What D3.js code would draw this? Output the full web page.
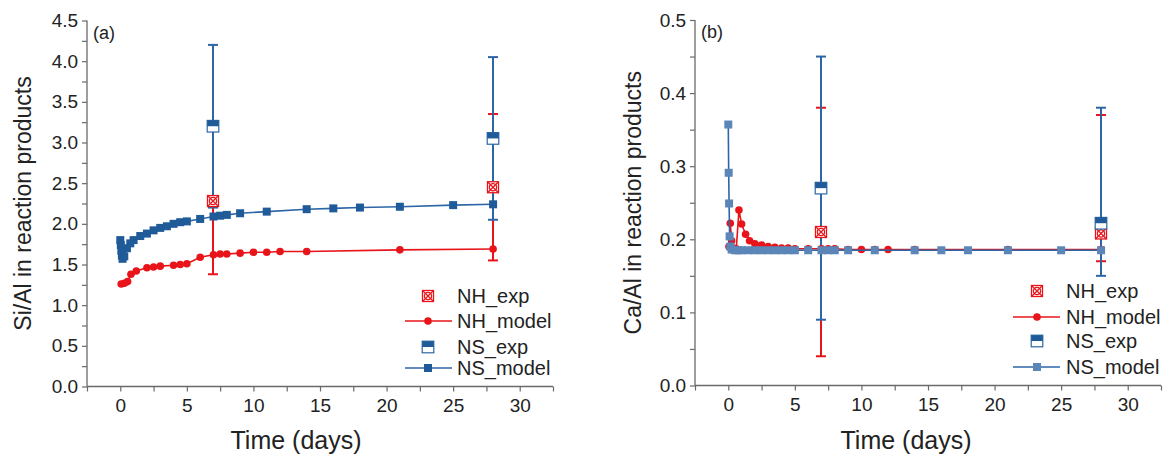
<!DOCTYPE html>
<html><head><meta charset="utf-8">
<script src="https://cdn.jsdelivr.net/npm/d3@7"></script>
<style>body{margin:0;background:#fff}svg{display:block}text{font-family:Arial,"Liberation Sans",sans-serif}</style>
</head><body><svg id="c" width="1167" height="462"></svg>
<script>
// ---------- data ----------
const xTicks = [0, 5, 10, 15, 20, 25, 30];
const yTicksA = [0, 0.5, 1, 1.5, 2, 2.5, 3, 3.5, 4, 4.5];
const yTicksB = [0, 0.1, 0.2, 0.3, 0.4, 0.5];
const legendNames = ["NH_exp", "NH_model", "NS_exp", "NS_model"];

// Panel (a) Si/Al
const nhModelDaysA = [0.07, 0.3, 0.55, 0.8, 1.2, 2, 2.5, 3, 4, 4.5, 5, 6, 7, 7.5, 8, 9, 10, 11, 12, 14, 21, 28];
const nhModelA     = [1.26, 1.27, 1.29, 1.38, 1.42, 1.46, 1.47, 1.48, 1.49, 1.50, 1.51, 1.59, 1.62, 1.63, 1.63, 1.64, 1.65, 1.65, 1.66, 1.66, 1.68, 1.69];
const nsModelDaysA = [0, 0.04, 0.08, 0.12, 0.17, 0.3, 0.5, 0.75, 1, 1.5, 2, 2.5, 3, 3.5, 4, 4.5, 5, 6, 7, 7.5, 8, 9, 11, 14, 16, 18, 21, 25, 28];
const nsModelA     = [1.80, 1.74, 1.67, 1.61, 1.57, 1.60, 1.70, 1.76, 1.80, 1.85, 1.88, 1.92, 1.95, 1.97, 2.00, 2.02, 2.03, 2.06, 2.09, 2.10, 2.11, 2.13, 2.15, 2.18, 2.19, 2.20, 2.21, 2.23, 2.24];
const expDays = [7, 28];
const nhExpA   = [2.28, 2.45];
const nhExpLoA = [1.38, 1.55];
const nhExpHiA = [3.18, 3.35];
const nsExpA   = [3.20, 3.05];
const nsExpLoA = [2.20, 2.05];
const nsExpHiA = [4.20, 4.05];

// Panel (b) Ca/Al
const nhModelDaysB = [0.05, 0.15, 0.25, 0.4, 0.6, 0.8, 1.0, 1.3, 1.6, 2, 2.5, 3, 3.5, 4, 4.5, 5, 6, 7, 7.5, 8, 9, 10, 11, 12, 14, 21, 28];
const nhModelB     = [0.190, 0.222, 0.198, 0.188, 0.187, 0.240, 0.221, 0.207, 0.198, 0.194, 0.192, 0.190, 0.189, 0.188, 0.188, 0.187, 0.187, 0.187, 0.187, 0.187, 0.186, 0.186, 0.186, 0.186, 0.186, 0.186, 0.186];
const nsModelDaysB = [0, 0.03, 0.06, 0.1, 0.15, 0.25, 0.5, 0.75, 1, 1.5, 2, 2.5, 3, 3.5, 4, 4.5, 5, 6, 7, 7.5, 8, 9, 11, 14, 16, 18, 21, 25, 28];
const nsModelB     = [0.357, 0.291, 0.249, 0.204, 0.190, 0.186, 0.185, 0.185, 0.185, 0.185, 0.185, 0.185, 0.185, 0.185, 0.185, 0.185, 0.185, 0.185, 0.185, 0.185, 0.185, 0.185, 0.185, 0.185, 0.185, 0.185, 0.185, 0.185, 0.185];
const nhExpB   = [0.210, 0.208];
const nhExpLoB = [0.040, 0.170];
const nhExpHiB = [0.380, 0.370];
const nsExpB   = [0.270, 0.222];
const nsExpLoB = [0.090, 0.150];
const nsExpHiB = [0.450, 0.380];

// ---------- styles ----------
const RED = "#e8141a", BLUE = "#1f5b98", BLUE_LINE = "#2d66a6", BLUE_LIGHT = "#5c86b8", AXIS = "#6a6a6a";

const svg = d3.select("#c");

function panel(cfg) {
  const x = d3.scaleLinear().domain([-2.5, 32.5]).range([cfg.x0, cfg.x1]);
  const y = d3.scaleLinear().domain([0, cfg.ymax]).range([cfg.y0, cfg.y1]);
  const g = svg.append("g");

  // axes
  const xMinor = d3.range(-2.5, 32.6, 2.5);
  const xAx = d3.axisBottom(x).tickValues(xMinor).tickSize(5).tickFormat(d => xTicks.includes(d) ? d : "");
  const gx = g.append("g").attr("transform", `translate(0,${cfg.y0})`).call(xAx);
  gx.selectAll("text").attr("font-size", 19).attr("fill", "#222").attr("dy", "0.9em");
  gx.selectAll("line").attr("stroke", AXIS).attr("stroke-width", 1.2);
  gx.select(".domain").attr("stroke", AXIS).attr("stroke-width", 1.3).attr("d", `M${cfg.x0},0H${cfg.x1}`);

  const step = cfg.yTicks[1] - cfg.yTicks[0];
  const yMinor = d3.range(0, cfg.ymax + step / 4, step / 2).map(v => +v.toFixed(4));
  const yAx = d3.axisLeft(y).tickValues(yMinor).tickSize(5).tickFormat(d => cfg.yTicks.some(t => Math.abs(t - d) < 1e-6) ? d3.format(".1f")(d) : "");
  const gy = g.append("g").attr("transform", `translate(${cfg.x0},0)`).call(yAx);
  gy.selectAll("text").attr("font-size", 19).attr("fill", "#222").attr("dx", "-0.05em");
  gy.selectAll("line").attr("stroke", AXIS).attr("stroke-width", 1.2);
  gy.select(".domain").attr("stroke", AXIS).attr("stroke-width", 1.3).attr("d", `M0,${cfg.y0}V${cfg.y1}`);

  // titles
  g.append("text").attr("x", cfg.xtx).attr("y", 449).attr("text-anchor", "middle")
    .attr("font-size", 25).attr("fill", "#222").text("Time (days)");
  g.append("text").attr("transform", `translate(${cfg.ytx},${(cfg.y0 + cfg.y1) / 2}) rotate(-90)`)
    .attr("text-anchor", "middle").attr("font-size", 23).attr("fill", "#222").text(cfg.ytitle);
  g.append("text").attr("x", cfg.x0 + 6).attr("y", cfg.y1 + 18).attr("font-size", 18).attr("fill", "#222").text(cfg.label);

  // error bars
  function errBars(vals, lo, hi, color) {
    expDays.forEach((d, i) => {
      const cx = Math.round(x(d));
      g.append("line").attr("x1", cx).attr("x2", cx).attr("y1", y(lo[i])).attr("y2", y(hi[i])).attr("stroke", color).attr("stroke-width", 2);
      [lo[i], hi[i]].forEach(v => g.append("line").attr("x1", cx - 5).attr("x2", cx + 5).attr("y1", y(v)).attr("y2", y(v)).attr("stroke", color).attr("stroke-width", 2));
    });
  }
  errBars(cfg.nhExp, cfg.nhLo, cfg.nhHi, RED);
  errBars(cfg.nsExp, cfg.nsLo, cfg.nsHi, BLUE_LINE);

  // models
  const line = d3.line().x(d => x(d[0])).y(d => y(d[1]));
  const nh = cfg.nhDays.map((d, i) => [d, cfg.nhModel[i]]);
  const ns = cfg.nsDays.map((d, i) => [d, cfg.nsModel[i]]);
  g.append("path").datum(nh).attr("d", line).attr("fill", "none").attr("stroke", RED).attr("stroke-width", 1.6);
  g.selectAll(null).data(nh).enter().append("circle").attr("cx", d => x(d[0])).attr("cy", d => y(d[1])).attr("r", 3.8).attr("fill", RED);
  g.append("path").datum(ns).attr("d", line).attr("fill", "none").attr("stroke", BLUE_LINE).attr("stroke-width", 1.6);
  g.selectAll(null).data(ns).enter().append("rect").attr("x", d => x(d[0]) - 4).attr("y", d => y(d[1]) - 4)
    .attr("width", 8).attr("height", 8).attr("fill", cfg.nsMarker);

  // exp markers
  expDays.forEach((d, i) => { nhMarker(g, Math.round(x(d)), y(cfg.nhExp[i])); });
  expDays.forEach((d, i) => { nsMarker(g, Math.round(x(d)), y(cfg.nsExp[i])); });

  // legend
  const L = cfg.leg;
  nhMarker(g, L.mx, L.ys[0]);
  g.append("line").attr("x1", L.l0).attr("x2", L.l1).attr("y1", L.ys[1]).attr("y2", L.ys[1]).attr("stroke", RED).attr("stroke-width", 1.6);
  g.append("circle").attr("cx", L.mx).attr("cy", L.ys[1]).attr("r", 3.8).attr("fill", RED);
  nsMarker(g, L.mx, L.ys[2]);
  g.append("line").attr("x1", L.l0).attr("x2", L.l1).attr("y1", L.ys[3]).attr("y2", L.ys[3]).attr("stroke", BLUE_LINE).attr("stroke-width", 1.6);
  g.append("rect").attr("x", L.mx - 4).attr("y", L.ys[3] - 4).attr("width", 8).attr("height", 8).attr("fill", cfg.nsMarker);
  legendNames.forEach((n, i) => g.append("text").attr("x", L.tx).attr("y", L.ys[i]).attr("dy", "0.36em")
    .attr("font-size", 20).attr("fill", "#222").text(n));
}

function nhMarker(g, cx, cy) {
  const s = 5.5;
  const m = g.append("g").attr("stroke", RED).attr("stroke-width", 1.3).attr("fill", "none");
  m.append("rect").attr("x", cx - s).attr("y", cy - s).attr("width", 2 * s).attr("height", 2 * s).attr("fill", "#fff");
  m.append("circle").attr("cx", cx).attr("cy", cy).attr("r", 3.6);
  m.append("path").attr("d", `M${cx - s},${cy - s}L${cx + s},${cy + s}M${cx + s},${cy - s}L${cx - s},${cy + s}`);
}
function nsMarker(g, cx, cy) {
  const s = 5.8;
  g.append("rect").attr("x", cx - s).attr("y", cy - s).attr("width", 2 * s).attr("height", 2 * s).attr("fill", "#fff").attr("stroke", BLUE_LINE).attr("stroke-width", 1.2);
  g.append("rect").attr("x", cx - s).attr("y", cy - s).attr("width", 2 * s).attr("height", s).attr("fill", BLUE);
}

panel({
  x0: 87, x1: 553, y0: 386.5, y1: 20.5, ymax: 4.5, yTicks: yTicksA, ytx: 31, xtx: 296,
  ytitle: "Si/Al in reaction products", label: "(a)", nsMarker: BLUE,
  nhDays: nhModelDaysA, nhModel: nhModelA, nsDays: nsModelDaysA, nsModel: nsModelA,
  nhExp: nhExpA, nhLo: nhExpLoA, nhHi: nhExpHiA, nsExp: nsExpA, nsLo: nsExpLoA, nsHi: nsExpHiA,
  leg: { mx: 428, l0: 405, l1: 452, tx: 457, ys: [296, 321, 347, 368] }
});
panel({
  x0: 695, x1: 1161, y0: 385.5, y1: 20, ymax: 0.5, yTicks: yTicksB, ytx: 641, xtx: 906,
  ytitle: "Ca/Al in reaction products", label: "(b)", nsMarker: BLUE_LIGHT,
  nhDays: nhModelDaysB, nhModel: nhModelB, nsDays: nsModelDaysB, nsModel: nsModelB,
  nhExp: nhExpB, nhLo: nhExpLoB, nhHi: nhExpHiB, nsExp: nsExpB, nsLo: nsExpLoB, nsHi: nsExpHiB,
  leg: { mx: 1037, l0: 1013, l1: 1060, tx: 1066, ys: [291, 317, 341, 367] }
});
</script></body></html>
